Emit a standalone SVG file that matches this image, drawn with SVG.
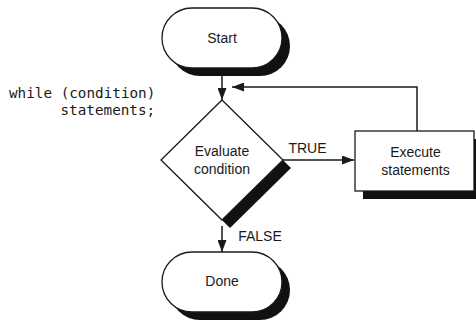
<svg xmlns="http://www.w3.org/2000/svg" width="476" height="320" viewBox="0 0 476 320">
  <style>
    .shape { fill: #fff; stroke: #1a1a1a; stroke-width: 1.3; }
    .shadow { fill: #111; stroke: none; }
    .label { font-family: "Liberation Sans", Arial, sans-serif; font-size: 14px; fill: #1a1a1a; text-anchor: middle; }
    .code { font-family: "DejaVu Sans Mono", "Liberation Mono", monospace; font-size: 14.3px; fill: #1a1a1a; }
    .wire { fill: none; stroke: #1a1a1a; stroke-width: 1.5; }
  </style>
  <defs>
    <marker id="arrow" markerUnits="userSpaceOnUse" markerWidth="12" markerHeight="9" refX="12" refY="4.5" orient="auto">
      <path d="M0,0 L12,4.5 L0,9 z" fill="#1a1a1a"/>
    </marker>
  </defs>

  <rect width="476" height="320" fill="#fff"/>

  <!-- source code of the loop -->
  <g id="code">
    <text class="code" x="9" y="98">while (condition)</text>
    <text class="code" x="60.5" y="115">statements;</text>
  </g>

  <!-- connectors -->
  <g id="connectors">
    <line class="wire" x1="222" y1="74" x2="222" y2="100" marker-end="url(#arrow)"/>
    <polyline class="wire" points="417,131 417,87 232,87" marker-end="url(#arrow)"/>
    <line class="wire" x1="283" y1="160" x2="354" y2="160" marker-end="url(#arrow)"/>
    <line class="wire" x1="222" y1="226" x2="222" y2="252" marker-end="url(#arrow)"/>
    <text class="label" x="307.5" y="153">TRUE</text>
    <text class="label" x="260" y="241">FALSE</text>
  </g>

  <g id="start">
    <rect class="shadow" x="170" y="16" width="120" height="60" rx="30"/>
    <rect class="shape" x="162" y="8" width="120" height="60" rx="30"/>
    <text class="label" x="222" y="43">Start</text>
  </g>

  <g id="evaluate">
    <polygon class="shadow" points="230,108 291,168 230,228 169,168"/>
    <polygon class="shape" points="222,100 283,160 222,220 161,160"/>
    <text class="label" x="222" y="156">Evaluate</text>
    <text class="label" x="222" y="173.5">condition</text>
  </g>

  <g id="execute">
    <rect class="shadow" x="363" y="139" width="120" height="60"/>
    <rect class="shape" x="355" y="131" width="119" height="60"/>
    <text class="label" x="415.5" y="157">Execute</text>
    <text class="label" x="415.5" y="175">statements</text>
  </g>

  <g id="done">
    <rect class="shadow" x="170" y="260" width="120" height="60" rx="30"/>
    <rect class="shape" x="162" y="252" width="120" height="60" rx="30"/>
    <text class="label" x="222" y="286">Done</text>
  </g>
</svg>
